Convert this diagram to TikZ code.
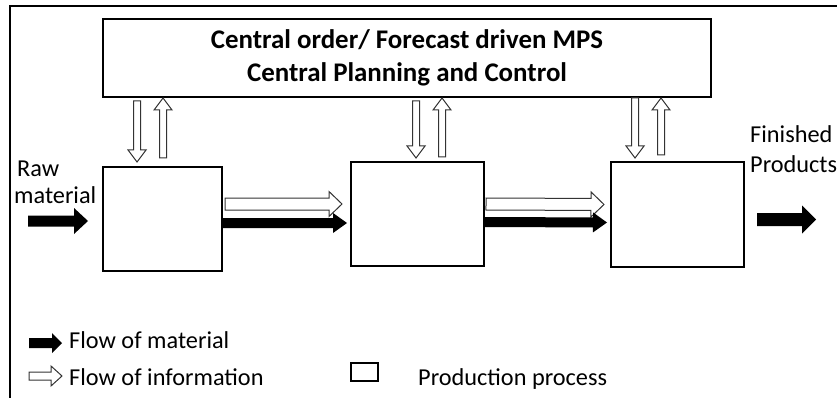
\documentclass[tikz,border=0pt]{standalone}
\usepackage{fontspec}
\setmainfont{Carlito}
\usetikzlibrary{calc, positioning}

% block arrow: [style]{from}{to}{shaft half width}{head half width}{head length}
\newcommand{\blockarrow}[6][]{%
  \path (#2) coordinate (ba-s) (#3) coordinate (ba-e);
  \path ($(ba-e)!#6!(ba-s)$) coordinate (ba-h);
  \draw[#1] ($(ba-s)!#4!90:(ba-e)$) -- ($(ba-h)!#4!90:(ba-e)$)
    -- ($(ba-h)!#5!90:(ba-e)$) -- (ba-e) -- ($(ba-h)!#5!-90:(ba-e)$)
    -- ($(ba-h)!#4!-90:(ba-e)$) -- ($(ba-s)!#4!-90:(ba-e)$) -- cycle;
}

\begin{document}
\begin{tikzpicture}[
    x=1pt, y=-1pt,
    procbox/.style={draw, line width=1.2pt, inner sep=0pt, outer sep=0pt,
                    minimum width=133pt, minimum height=104pt},
    planbox/.style={draw, line width=1.2pt, inner sep=0pt, outer sep=0pt,
                    minimum width=608pt, minimum height=78pt, align=center,
                    font=\bfseries\fontsize{26.9}{33}\selectfont},
    lbl/.style={inner sep=0pt, anchor=base west, font=\fontsize{24.3}{29}\selectfont},
    material/.style={fill=black, draw=none},
    info/.style={fill=white, draw=black!80, line width=1pt},
  ]
  \useasboundingbox (0,0) rectangle (837,398);
  \draw[line width=1.3pt] (10,400) |- (840,6);

  % planning and production processes
  \node[planbox] (plan) at (407,58) {Central order/ Forecast driven MPS\\Central Planning and Control};
  \node[procbox, minimum width=119pt] (proc1) at (162.5,219) {};
  \node[procbox] (proc2) at (417.5,214) {};
  \node[procbox, minimum height=105pt] (proc3) at (677.5,214.5) {};

  % information between planning and processes
  \blockarrow[info]{$(plan.south -| proc1.north)+(-25.5,4)$}{$(proc1.north)+(-25.5,-5)$}{3.5pt}{9pt}{12pt}
  \blockarrow[info]{$(proc1.north)+(0.5,-9)$}{$(plan.south -| proc1.north)+(0.5,1)$}{3.5pt}{9pt}{12pt}
  \blockarrow[info]{$(plan.south -| proc2.north)+(-1.5,4)$}{$(proc2.north)+(-1.5,-4)$}{3.5pt}{9pt}{12pt}
  \blockarrow[info]{$(proc2.north)+(24.5,-5)$}{$(plan.south -| proc2.north)+(24.5,1)$}{3.5pt}{9pt}{12pt}
  \blockarrow[info]{$(plan.south -| proc3.north)+(-42.5,1)$}{$(proc3.north)+(-42.5,-4)$}{3.5pt}{9pt}{12pt}
  \blockarrow[info]{$(proc3.north)+(-16.5,-7)$}{$(plan.south -| proc3.north)+(-16.5,1)$}{3.5pt}{9pt}{12pt}

  % flows between processes
  \blockarrow[info]{$(proc1.east)+(3,-15)$}{$(proc2.west)+(-9,-10)$}{6pt}{12.5pt}{13pt}
  \blockarrow[material]{$(proc1.east)+(0,4)$}{$(proc2.west)+(-4,9)$}{5pt}{10pt}{14pt}
  \blockarrow[info]{$(proc2.east)+(2,-10)$}{$(proc3.west)+(-7,-10)$}{6pt}{12.5pt}{13pt}
  \blockarrow[material]{$(proc2.east)+(0,8)$}{$(proc3.west)+(-4,8)$}{5pt}{10pt}{14pt}

  % raw material in, finished products out
  \node[lbl] (raw) at (17,176) {Raw};
  \node[lbl] (rawmat) at (14,204) {material};
  \blockarrow[material]{$(proc1.west)+(-75,2)$}{$(proc1.west)+(-15,2)$}{5.5pt}{13pt}{14pt}
  \node[lbl] (fin) at (750,143) {Finished};
  \node[lbl] (prod) at (750,173) {Products};
  \blockarrow[material]{$(proc3.east)+(13,5)$}{$(proc3.east)+(72,5)$}{6.5pt}{14pt}{14pt}

  % legend
  \coordinate (lmat-s) at (29,343);
  \coordinate (lmat-e) at (62,343);
  \coordinate (linf-s) at (29,376);
  \coordinate (linf-e) at (62,376);
  \blockarrow[material]{lmat-s}{lmat-e}{5pt}{10pt}{10pt}
  \blockarrow[info]{linf-s}{linf-e}{4pt}{10pt}{11pt}
  \node[lbl] (lmat) at (69,348) {Flow of material};
  \node[lbl] (linf) at (69,385) {Flow of information};
  \node[draw, line width=1.2pt, inner sep=0pt, outer sep=0pt,
        minimum width=27pt, minimum height=18pt] (lproc) at (364.5,372) {};
  \node[lbl] (lproctxt) at (418,385) {Production process};
\end{tikzpicture}
\end{document}
